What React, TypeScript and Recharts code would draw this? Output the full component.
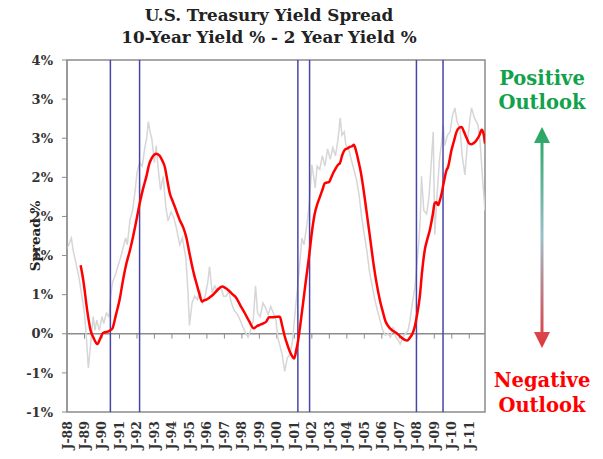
import React from 'react';
import { LineChart, Line, XAxis, YAxis, ReferenceLine, ReferenceArea, Label } from 'recharts';

const SERIF = '"DejaVu Serif", "Liberation Serif", serif';

// raw monthly-ish spread (light grey line)
const grayYears = [
  1988.0, 1988.1, 1988.25, 1988.35, 1988.5, 1988.7, 1988.85, 1989.0, 1989.12, 1989.22,
  1989.35, 1989.5, 1989.6, 1989.7, 1989.85, 1990.0, 1990.1, 1990.25, 1990.4, 1990.5,
  1990.6, 1990.75, 1990.9, 1991.05, 1991.2, 1991.35, 1991.45, 1991.6, 1991.75, 1991.9,
  1992.0, 1992.15, 1992.3, 1992.45, 1992.55, 1992.65, 1992.75, 1992.85, 1993.0, 1993.1,
  1993.2, 1993.35, 1993.5, 1993.65, 1993.78, 1993.95, 1994.1, 1994.25, 1994.45, 1994.6,
  1994.8, 1994.92, 1995.0, 1995.15, 1995.3, 1995.45, 1995.6, 1995.75, 1995.9, 1996.05,
  1996.15, 1996.3, 1996.45, 1996.6, 1996.8, 1996.95, 1997.1, 1997.25, 1997.4, 1997.55,
  1997.75, 1997.9, 1998.05, 1998.2, 1998.35, 1998.5, 1998.65, 1998.78, 1998.9, 1999.05,
  1999.2, 1999.35, 1999.5, 1999.65, 1999.8, 1999.95, 2000.05, 2000.2, 2000.3, 2000.45,
  2000.6, 2000.75, 2000.9, 2001.0, 2001.14, 2001.3, 2001.43, 2001.55, 2001.72, 2001.85,
  2002.0, 2002.1, 2002.19, 2002.3, 2002.45, 2002.6, 2002.75, 2002.9, 2003.05, 2003.2,
  2003.35, 2003.5, 2003.62, 2003.72, 2003.85, 2003.95, 2004.1, 2004.25, 2004.4, 2004.55,
  2004.7, 2004.85, 2005.0, 2005.15, 2005.3, 2005.45, 2005.6, 2005.76, 2005.9, 2006.05,
  2006.2, 2006.35, 2006.5, 2006.65, 2006.8, 2006.95, 2007.05, 2007.2, 2007.35, 2007.5,
  2007.6, 2007.75, 2007.89, 2008.0, 2008.12, 2008.2, 2008.27, 2008.4, 2008.56, 2008.7,
  2008.8, 2008.94, 2009.03, 2009.15, 2009.3, 2009.42, 2009.51, 2009.6, 2009.75, 2009.9,
  2010.05, 2010.18, 2010.3, 2010.47, 2010.6, 2010.75, 2010.9, 2011.05, 2011.13, 2011.3,
  2011.5, 2011.62, 2011.76, 2011.9,
];
const grayValues = [
  1.25, 1.3, 1.4, 1.22, 1.05, 0.8, 0.55, 0.3, -0.1, -0.5,
  -0.15, 0.25, 0.05, 0.2, 0.05, 0.25, 0.15, 0.3, 0.25, 0.55,
  0.75, 0.85, 0.98, 1.1, 1.25, 1.4, 1.3, 1.66, 1.8, 2.1,
  2.35, 2.5, 2.45, 2.72, 2.85, 3.1, 2.95, 2.85, 2.5, 2.75,
  2.45, 2.1, 2.3, 1.85, 1.65, 1.78, 1.7, 1.55, 1.3, 1.4,
  1.1, 0.6, 0.12, 0.45, 0.55, 0.5, 0.62, 0.45, 0.55, 0.75,
  0.98, 0.6, 0.7, 0.62, 0.68, 0.55, 0.55, 0.62, 0.45, 0.35,
  0.28, 0.2, 0.1, 0.02, -0.05, 0.05, 0.2, 0.7, 0.3, 0.25,
  0.45, 0.38, 0.28, 0.4, 0.3, 0.2, -0.05, -0.2, -0.3, -0.55,
  -0.35, -0.3, -0.1, 0.2, 0.57, 1.0, 1.4, 1.3, 1.6, 1.9,
  2.47, 2.3, 2.13, 2.45, 2.4, 2.6, 2.45, 2.7, 2.55, 2.72,
  2.6, 2.85, 3.15, 2.9, 2.95, 2.75, 2.7, 2.55, 2.4, 2.25,
  2.03, 1.7, 1.45, 1.2, 0.9, 0.7, 0.5, 0.33, 0.2, 0.05,
  -0.02, 0.0, -0.05, 0.1, -0.05, -0.1, -0.15, -0.05, 0.0, 0.05,
  0.18, 0.45, 0.67, 1.0, 1.35, 1.7, 2.3, 1.8, 1.75, 2.0,
  2.4, 2.95, 1.45, 2.0, 2.55, 2.8, 3.05, 2.75, 2.9, 2.95,
  3.2, 3.3, 3.1, 3.0, 2.6, 2.32, 2.8, 3.15, 3.3, 3.15,
  3.05, 2.8, 2.27, 1.8,
];

// smoothed spread (red line)
const redYears = [
  1988.78, 1988.95, 1989.15, 1989.35, 1989.5, 1989.74, 1989.9, 1990.06, 1990.4, 1990.6,
  1990.8, 1991.01, 1991.2, 1991.4, 1991.6, 1991.78, 1992.0, 1992.16, 1992.35, 1992.54,
  1992.7, 1992.83, 1993.0, 1993.11, 1993.3, 1993.45, 1993.59, 1993.75, 1993.88, 1994.02,
  1994.16, 1994.3, 1994.45, 1994.65, 1994.83, 1995.0, 1995.12, 1995.27, 1995.4, 1995.55,
  1995.72, 1995.85, 1995.97, 1996.15, 1996.35, 1996.6, 1996.87, 1997.05, 1997.21, 1997.45,
  1997.69, 1997.9, 1998.17, 1998.42, 1998.68, 1998.85, 1999.02, 1999.2, 1999.4, 1999.55,
  1999.75, 2000.0, 2000.17, 2000.3, 2000.45, 2000.6, 2000.74, 2000.88, 2000.99, 2001.1,
  2001.22, 2001.35, 2001.5, 2001.67, 2001.84, 2002.0, 2002.17, 2002.32, 2002.46, 2002.6,
  2002.74, 2002.87, 2002.99, 2003.1, 2003.22, 2003.35, 2003.5, 2003.6, 2003.75, 2003.89,
  2004.05, 2004.17, 2004.3, 2004.4, 2004.52, 2004.65, 2004.8, 2004.93, 2005.12, 2005.32,
  2005.5, 2005.7, 2005.9, 2006.08, 2006.2, 2006.37, 2006.6, 2006.84, 2007.1, 2007.32,
  2007.45, 2007.6, 2007.75, 2007.89, 2008.03, 2008.17, 2008.3, 2008.46, 2008.6, 2008.75,
  2008.9, 2009.03, 2009.12, 2009.22, 2009.32, 2009.42, 2009.55, 2009.7, 2009.78, 2009.99,
  2010.13, 2010.27, 2010.42, 2010.56, 2010.7, 2010.85, 2011.0, 2011.13, 2011.28, 2011.42,
  2011.58, 2011.71, 2011.82, 2011.9,
];
const redValues = [
  1.0, 0.75, 0.35, 0.05, -0.05, -0.15, -0.07, 0.01, 0.04, 0.08,
  0.28, 0.5, 0.78, 1.03, 1.22, 1.42, 1.7, 1.91, 2.12, 2.3,
  2.48, 2.56, 2.62, 2.63, 2.6, 2.53, 2.44, 2.22, 2.05, 1.95,
  1.86, 1.76, 1.66, 1.55, 1.4, 1.18, 1.03, 0.86, 0.74, 0.6,
  0.47, 0.49, 0.5, 0.53, 0.57, 0.64, 0.69, 0.67, 0.64, 0.58,
  0.52, 0.42, 0.3, 0.18, 0.08, 0.11, 0.13, 0.15, 0.18, 0.24,
  0.24, 0.25, 0.25, 0.12, -0.04, -0.16, -0.26, -0.33, -0.36, -0.25,
  -0.09, 0.15, 0.45, 0.8, 1.13, 1.48, 1.76, 1.9, 2.0, 2.1,
  2.2, 2.21, 2.22, 2.28, 2.35, 2.41, 2.47, 2.49, 2.62, 2.69,
  2.71, 2.73, 2.74, 2.76, 2.68, 2.54, 2.36, 2.15, 1.8, 1.42,
  1.07, 0.74, 0.48, 0.3, 0.19, 0.11, 0.05, 0.01, -0.05, -0.09,
  -0.1, -0.06, 0.0, 0.11, 0.3, 0.54, 0.9, 1.23, 1.38, 1.52,
  1.72, 1.91, 1.92, 1.88, 1.95, 2.05, 2.22, 2.39, 2.43, 2.69,
  2.82, 2.95, 3.01, 3.02, 2.95, 2.86, 2.78, 2.77, 2.79, 2.83,
  2.9, 2.98, 2.92, 2.78,
];

// recession markers (blue verticals)
const recessionYears = [1990.48, 1992.15, 2001.2, 2001.87, 2007.98, 2009.5];

const xTickYears = [
  1988, 1989, 1990, 1991, 1992, 1993, 1994, 1995, 1996, 1997, 1998, 1999,
  2000, 2001, 2002, 2003, 2004, 2005, 2006, 2007, 2008, 2009, 2010, 2011,
];
const xTickLabels = [
  'J-88', 'J-89', 'J-90', 'J-91', 'J-92', 'J-93', 'J-94', 'J-95', 'J-96', 'J-97', 'J-98', 'J-99',
  'J-00', 'J-01', 'J-02', 'J-03', 'J-04', 'J-05', 'J-06', 'J-07', 'J-08', 'J-09', 'J-10', 'J-11',
];
const yTickValues = [4, 24 / 7, 20 / 7, 16 / 7, 12 / 7, 8 / 7, 4 / 7, 0, -4 / 7, -8 / 7];
const yTickLabels = ['4%', '3%', '3%', '2%', '2%', '1%', '1%', '0%', '-1%', '-1%'];

const X_MIN = 1988;
const X_MAX = 2011.9;
const Y_MIN = -8 / 7;
const Y_MAX = 4;

const grayData = grayYears.map((t, i) => ({ t, v: grayValues[i] }));
const redData = redYears.map((t, i) => ({ t, v: redValues[i] }));

const AXIS = '#8c8c8c';

function YearTick(props: any) {
  const { x, y, payload } = props;
  const label = xTickLabels[xTickYears.indexOf(payload.value)];
  return (
    <text
      x={x}
      y={y}
      transform={`rotate(-90 ${x} ${y})`}
      textAnchor="end"
      dominantBaseline="central"
      fontFamily={SERIF}
      fontWeight="bold"
      fontSize={12.5}
      fill="#333"
    >
      {label}
    </text>
  );
}

function OutlookArrow() {
  return (
    <svg width={30} height={230} style={{ position: 'absolute', left: 527, top: 124 }}>
      <defs>
        <linearGradient id="outlookGrad" x1="0" y1="0" x2="0" y2="1">
          <stop offset="0%" stopColor="#22a65e" />
          <stop offset="50%" stopColor="#9cbfc9" />
          <stop offset="100%" stopColor="#e2343a" />
        </linearGradient>
      </defs>
      <path
        d="M15 3 L23 19 L16.5 19 L16.5 208 L23 208 L15 224 L7 208 L13.5 208 L13.5 19 L7 19 Z"
        fill="url(#outlookGrad)"
      />
    </svg>
  );
}

export default function App() {
  return (
    <div style={{ position: 'absolute', left: 0, top: 0, width: 603, height: 459, background: '#fff', overflow: 'hidden' }}>
      <div
        style={{
          position: 'absolute',
          left: 0,
          top: 4,
          width: 538,
          textAlign: 'center',
          fontFamily: SERIF,
          fontWeight: 'bold',
          fontSize: 16.8,
          lineHeight: '22px',
          color: '#222',
        }}
      >
        <div>U.S. Treasury Yield Spread</div>
        <div>10-Year Yield % - 2 Year Yield %</div>
      </div>

      <LineChart width={603} height={459} margin={{ top: 60, right: 118, bottom: 0, left: 0 }}>
        <XAxis
          dataKey="t"
          type="number"
          domain={[X_MIN, X_MAX]}
          ticks={xTickYears}
          interval={0}
          allowDataOverflow
          axisLine={false}
          tickLine={false}
          tickSize={0}
          tickMargin={9}
          height={47}
          tick={<YearTick />}
        />
        <YAxis
          type="number"
          domain={[Y_MIN, Y_MAX]}
          ticks={yTickValues}
          interval={0}
          allowDataOverflow
          width={67}
          axisLine={{ stroke: AXIS }}
          tickLine={{ stroke: AXIS }}
          tickSize={5}
          tickMargin={9}
          tickFormatter={(_v: number, i: number) => yTickLabels[i]}
          tick={{ fill: '#333', fontFamily: SERIF, fontWeight: 'bold', fontSize: 13 }}
        >
          <Label
            content={({ viewBox }: any) => {
              const cx = viewBox.x + 35;
              const cy = viewBox.y + viewBox.height / 2;
              return (
                <text
                  x={cx}
                  y={cy}
                  transform={`rotate(-90 ${cx} ${cy})`}
                  textAnchor="middle"
                  dominantBaseline="central"
                  fontFamily={SERIF}
                  fontWeight="bold"
                  fontSize={13.5}
                  fill="#222"
                >
                  Spread %
                </text>
              );
            }}
          />
        </YAxis>

        <ReferenceArea x1={X_MIN} x2={X_MAX} y1={Y_MIN} y2={Y_MAX} fill="none" stroke={AXIS} strokeWidth={1.5} />
        <ReferenceLine y={0} stroke={AXIS} strokeWidth={1.5} />
        {xTickYears.slice(1).map((yr) => (
          <ReferenceLine
            key={yr}
            segment={[{ x: yr, y: 0 }, { x: yr, y: -0.07 }]}
            stroke={AXIS}
            strokeWidth={1}
          />
        ))}

        <Line
          data={grayData}
          dataKey="v"
          type="linear"
          stroke="#d6d6d6"
          strokeWidth={1.5}
          dot={false}
          activeDot={false}
          isAnimationActive={false}
        />
        {recessionYears.map((yr) => (
          <ReferenceLine key={yr} x={yr} stroke="#4646a8" strokeWidth={1.5} />
        ))}
        <Line
          data={redData}
          dataKey="v"
          type="monotone"
          stroke="#ff0000"
          strokeWidth={2.5}
          dot={false}
          activeDot={false}
          isAnimationActive={false}
        />
      </LineChart>

      <div
        style={{
          position: 'absolute',
          left: 482,
          top: 67,
          width: 120,
          textAlign: 'center',
          fontFamily: SERIF,
          fontWeight: 'bold',
          fontSize: 19.5,
          lineHeight: '24px',
          color: '#12a24b',
        }}
      >
        <div>Positive</div>
        <div>Outlook</div>
      </div>
      <OutlookArrow />
      <div
        style={{
          position: 'absolute',
          left: 482,
          top: 368,
          width: 120,
          textAlign: 'center',
          fontFamily: SERIF,
          fontWeight: 'bold',
          fontSize: 19.5,
          lineHeight: '25px',
          color: '#ff0000',
        }}
      >
        <div>Negative</div>
        <div>Outlook</div>
      </div>
    </div>
  );
}
